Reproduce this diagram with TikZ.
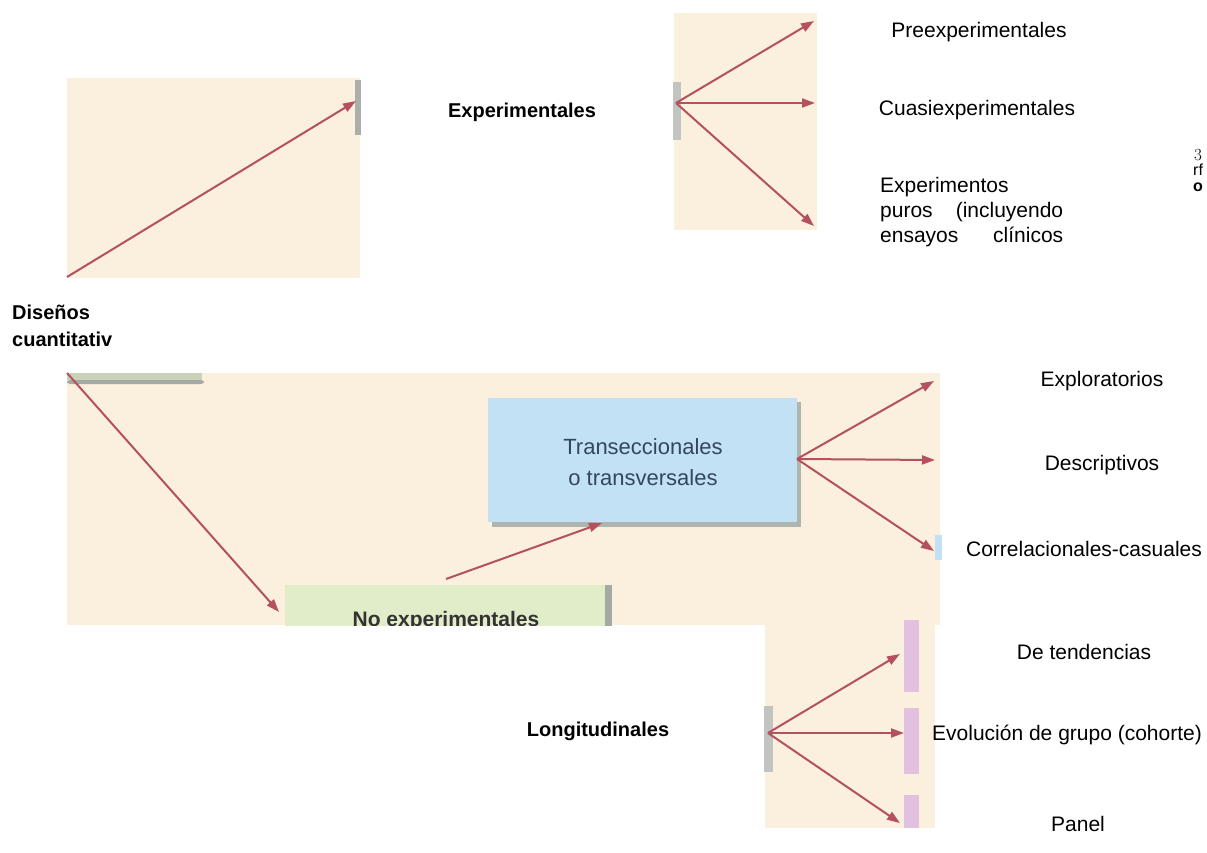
\documentclass[tikz,border=0pt]{standalone}
\usepackage{fontspec}
\setmainfont{Liberation Sans}
\newfontfamily\serifnum{Latin Modern Roman}
\usetikzlibrary{arrows.meta}
\definecolor{beige}{HTML}{FAF0DD}
\definecolor{arrowred}{HTML}{B5515F}
\definecolor{boxblue}{HTML}{C3E1F4}
\definecolor{boxgreen}{HTML}{E1ECC8}
\definecolor{boxpink}{HTML}{E2C0E0}
\definecolor{shadowgray}{HTML}{8E948C}
\definecolor{boxtext}{HTML}{34475A}
\tikzset{
  conn/.style={draw=arrowred, line width=2pt, -{Triangle[length=13pt,width=9pt]}},
  lbl/.style={font=\fontsize{21}{25}\selectfont, inner sep=0pt, text=black},
  blbl/.style={font=\fontsize{20}{24}\selectfont\bfseries, inner sep=0pt, text=black},
  tinylbl/.style={font=\fontsize{16}{16}\selectfont, inner sep=0pt, anchor=base west},
  panelbg/.style={fill=beige, draw=none},
  strip/.style={fill=shadowgray!60, draw=none},
  pinkstrip/.style={fill=boxpink, draw=none},
}
\begin{document}
\begin{tikzpicture}[x=1pt,y=-1pt]
\useasboundingbox (0,0) rectangle (1207,853);
\fill[white] (0,0) rectangle (1207,853);

% ---------- panel A ----------
\fill[panelbg] (67,78) rectangle (360,278);
\fill[strip, fill=shadowgray!75] (355,80) rectangle (361,135);
\coordinate (asrc) at (67,277);
\coordinate (atip) at (356,101);
\draw[conn] (asrc) -- (atip);

\node[blbl] (exper) at (522,112) {Experimentales};

% ---------- panel B ----------
\fill[panelbg] (674,13) rectangle (817,230);
\fill[strip, fill=shadowgray!55] (673,82) rectangle (681,140);
\coordinate (bsrc) at (676,103);
\coordinate (btip1) at (814,21);
\coordinate (btip2) at (815,103);
\coordinate (btip3) at (814,226);
\draw[conn] (bsrc) -- (btip1);
\draw[conn] (bsrc) -- (btip2);
\draw[conn] (bsrc) -- (btip3);

\node[lbl] (pre) at (979,32) {Preexperimentales};
\node[lbl] (cuasi) at (977,110) {Cuasiexperimentales};
\node[lbl, anchor=west] (puros1) at (880,187) {Experimentos};
\node[lbl, anchor=west] (puros2) at (880,212) {\makebox[183pt][s]{puros\hfill(incluyendo}};
\node[lbl, anchor=west] (puros3) at (880,237) {\makebox[183pt][s]{ensayos\hfill clínicos}};

% margin fragments
\node[tinylbl, font=\fontsize{17}{17}\selectfont\serifnum] (m1) at (1194,161) {3};
\node[tinylbl] (m2) at (1193,176) {\smash{rf}};
\node[tinylbl, font=\fontsize{16}{16}\selectfont\bfseries] (m3) at (1193,192) {\smash{o}};

% ---------- left label ----------
\node[blbl, anchor=west] (dis1) at (12,312) {Diseños};
\node[blbl, anchor=west] (dis2) at (12,339) {cuantitativ};

% ---------- panel C ----------
\fill[panelbg] (67,373) rectangle (940,625);
\fill[boxgreen!70!shadowgray] (67,373) rectangle (202,380);
\fill[shadowgray!80, rounded corners=3pt] (67,380) rectangle (204,384);

% blue box with shadow
\fill[shadowgray!70] (492,402) rectangle (801,527);
\node[draw=none, fill=boxblue, minimum width=309pt, minimum height=124pt,
      anchor=north west, inner sep=0pt] (trans) at (488,398) {};
\node[font=\fontsize{22}{31}\selectfont, text=boxtext, align=center, inner sep=0pt]
      (transtxt) at (643,462) {Transeccionales\\o transversales};

% green box (clipped)
\begin{scope}
\clip (67,373) rectangle (940,625);
\fill[shadowgray!80] (286,585) rectangle (612,640);
\node[fill=boxgreen, minimum width=320pt, minimum height=60pt, anchor=north west,
      inner sep=0pt] (noexp) at (285,585) {};
\node[font=\fontsize{21}{24}\selectfont\bfseries, text=black!80, inner sep=0pt]
      (noexptxt) at (446,621) {No experimentales};
\end{scope}

\coordinate (csrc) at (67,373);
\coordinate (ctip) at (279,612);
\draw[conn] (csrc) -- (ctip);
\coordinate (nsrc) at (446,579);
\coordinate (ntip) at (602,523);
\draw[conn] (nsrc) -- (ntip);

\fill[boxblue] (935,535) rectangle (942,560);
\coordinate (tsrc) at (797,459);
\coordinate (ttip1) at (934,381);
\coordinate (ttip2) at (935,460);
\coordinate (ttip3) at (934,551);
\draw[conn] (tsrc) -- (ttip1);
\draw[conn] (tsrc) -- (ttip2);
\draw[conn] (tsrc) -- (ttip3);

\node[lbl] (explo) at (1102,381) {Exploratorios};
\node[lbl] (descr) at (1102,465) {Descriptivos};
\node[lbl] (corr) at (1084,549) {Correlacionales-casuales};

% ---------- panel D ----------
\fill[panelbg] (765,620) rectangle (935,828);
\fill[pinkstrip] (904,620) rectangle (919,692);
\fill[pinkstrip] (904,708) rectangle (919,774);
\fill[pinkstrip] (904,795) rectangle (919,828);
\fill[strip, fill=shadowgray!55] (764,706) rectangle (773,772);
\coordinate (lsrc) at (768,733);
\coordinate (ltip1) at (900,654);
\coordinate (ltip2) at (904,733);
\coordinate (ltip3) at (900,823);
\draw[conn] (lsrc) -- (ltip1);
\draw[conn] (lsrc) -- (ltip2);
\draw[conn] (lsrc) -- (ltip3);

\node[blbl] (longi) at (598,731) {Longitudinales};
\node[lbl] (tend) at (1084,652) {De tendencias};
\node[lbl, anchor=west] (evol) at (932,735) {Evolución de grupo (cohorte)};
\node[lbl] (panel) at (1078,824) {Panel};
\end{tikzpicture}
\end{document}
